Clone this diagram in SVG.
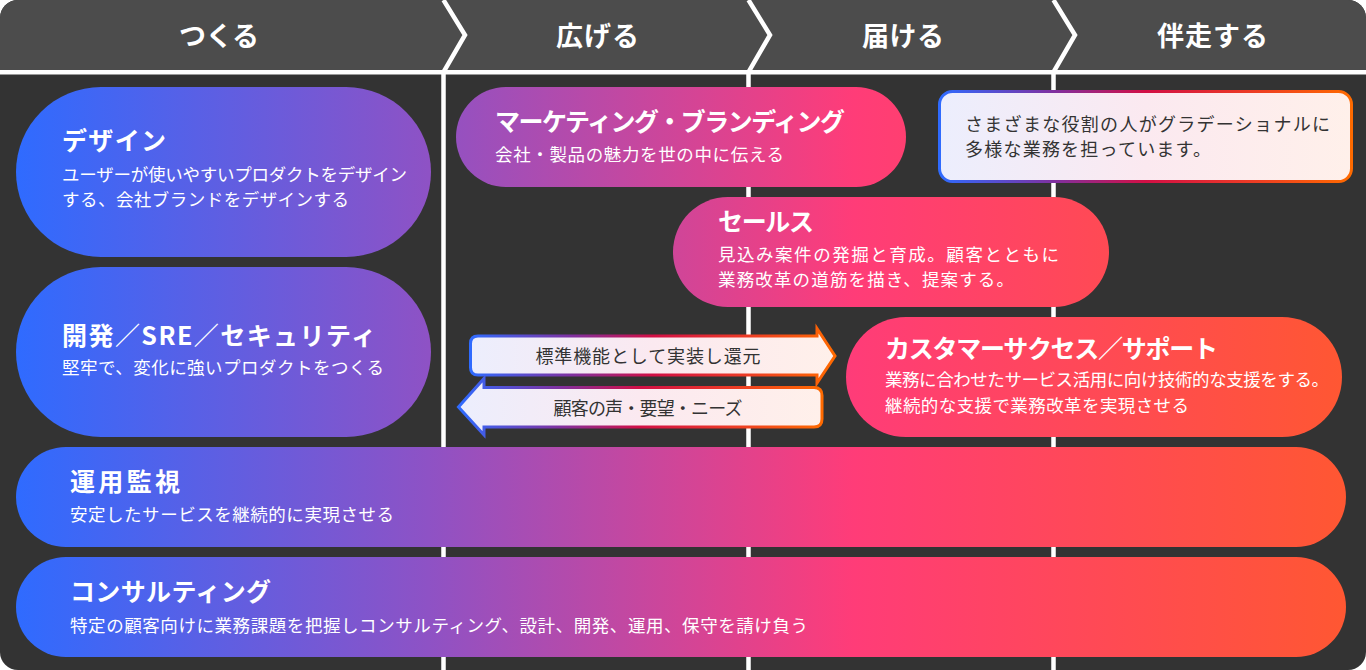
<svg xmlns="http://www.w3.org/2000/svg" width="1366" height="670" viewBox="0 0 1366 670">
<defs>
<clipPath id="frame"><rect x="0" y="0" width="1366" height="670" rx="18"/></clipPath>
<linearGradient id="main" gradientUnits="userSpaceOnUse" x1="16" y1="0" x2="1346" y2="0">
<stop offset="0" stop-color="#2f6bff"/>
<stop offset="0.31" stop-color="#8e52c5"/>
<stop offset="0.63" stop-color="#ff3c78"/>
<stop offset="1" stop-color="#ff5732"/>
</linearGradient>
<linearGradient id="edge" x1="0" y1="0" x2="1" y2="0">
<stop offset="0" stop-color="#2f6bff"/>
<stop offset="0.28" stop-color="#80309f"/>
<stop offset="0.5" stop-color="#d20f45"/>
<stop offset="0.75" stop-color="#ec3a26"/>
<stop offset="1" stop-color="#ff6a00"/>
</linearGradient>
<linearGradient id="soft" x1="0" y1="0" x2="1" y2="0">
<stop offset="0" stop-color="#eceefd"/>
<stop offset="0.5" stop-color="#fbe9f0"/>
<stop offset="1" stop-color="#fff0ea"/>
</linearGradient>
</defs>
<style>
text{font-family:"Noto Sans CJK JP","Noto Sans",sans-serif;}
.hd{fill:#ffffff;font-size:27px;font-weight:700;text-anchor:middle;}
.t{fill:#ffffff;font-size:25px;font-weight:700;}
.s{fill:#ffffff;font-size:17.5px;font-weight:400;}
.d{fill:#333333;font-size:18px;font-weight:400;}
.a{fill:#333333;font-size:18px;font-weight:400;text-anchor:middle;}
.pill{fill:url(#main);}
.box{fill:url(#soft);stroke:url(#edge);stroke-width:3;}
.wl{stroke:#ffffff;stroke-width:4.5;fill:none;}
</style>
<g clip-path="url(#frame)">
<rect x="0" y="0" width="1366" height="670" fill="#333333"/>
<rect x="0" y="0" width="1366" height="70" fill="#4c4c4c"/>
<rect x="0" y="70" width="1366" height="4.5" fill="#ffffff"/>
<path class="wl" d="M443.5,0 L465,35 L443.5,72 L443.5,670"/>
<path class="wl" d="M748.5,0 L770,35 L748.5,72 L748.5,670"/>
<path class="wl" d="M1053.5,0 L1075,35 L1053.5,72 L1053.5,670"/>
</g>
<g id="header">
<text class="hd" x="219" y="46" textLength="80" lengthAdjust="spacing">つくる</text>
<text class="hd" x="597.5" y="46" textLength="83" lengthAdjust="spacing">広げる</text>
<text class="hd" x="903" y="46" textLength="82" lengthAdjust="spacing">届ける</text>
<text class="hd" x="1212.5" y="46" textLength="111" lengthAdjust="spacing">伴走する</text>
</g>
<g id="connectors">
<path class="box" d="M478,336 L817,336 L817,328.5 L835,356 L817,383 L817,375 L478,375 Q470.5,375 470.5,367.5 L470.5,343.5 Q470.5,336 478,336 Z"/>
<text class="a" x="648" y="363" textLength="225" lengthAdjust="spacing">標準機能として実装し還元</text>
<path class="box" d="M814,387.5 L484,387.5 L484,378.5 L458.5,407 L484,435 L484,427 L814,427 Q822,427 822,419 L822,395.5 Q822,387.5 814,387.5 Z"/>
<text class="a" x="648" y="415" textLength="189" lengthAdjust="spacing">顧客の声・要望・ニーズ</text>
</g>
<g id="design">
<rect class="pill" x="16" y="87" width="415" height="170" rx="85"/>
<text class="t" x="62" y="150" textLength="104" lengthAdjust="spacing">デザイン</text>
<text class="s" x="62" y="181" textLength="345" lengthAdjust="spacing">ユーザーが使いやすいプロダクトをデザイン</text>
<text class="s" x="62" y="206" textLength="287" lengthAdjust="spacing">する、会社ブランドをデザインする</text>
</g>
<g id="dev">
<rect class="pill" x="16" y="267" width="415" height="170" rx="85"/>
<text class="t" x="62" y="345" textLength="314" lengthAdjust="spacing">開発／SRE／セキュリティ</text>
<text class="s" x="62" y="374" textLength="322" lengthAdjust="spacing">堅牢で、変化に強いプロダクトをつくる</text>
</g>
<g id="marketing">
<rect class="pill" x="456" y="87" width="450" height="100" rx="50"/>
<text class="t" x="495" y="131" textLength="350" lengthAdjust="spacing">マーケティング・ブランディング</text>
<text class="s" x="495" y="161" textLength="289" lengthAdjust="spacing">会社・製品の魅力を世の中に伝える</text>
</g>
<g id="sales">
<rect class="pill" x="673" y="197" width="436" height="110" rx="55"/>
<text class="t" x="718" y="231" textLength="96" lengthAdjust="spacing">セールス</text>
<text class="s" x="718" y="261" textLength="341" lengthAdjust="spacing">見込み案件の発掘と育成。顧客とともに</text>
<text class="s" x="718" y="286" textLength="296" lengthAdjust="spacing">業務改革の道筋を描き、提案する。</text>
</g>
<g id="note">
<rect class="box" x="939.5" y="91.5" width="412" height="90" rx="13"/>
<text class="d" x="965" y="131" textLength="365" lengthAdjust="spacing">さまざまな役割の人がグラデーショナルに</text>
<text class="d" x="965" y="156" textLength="246" lengthAdjust="spacing">多様な業務を担っています。</text>
</g>
<g id="cs">
<rect class="pill" x="846" y="317" width="496" height="120" rx="60"/>
<text class="t" x="885" y="358" textLength="333" lengthAdjust="spacing">カスタマーサクセス／サポート</text>
<text class="s" x="885" y="386" textLength="444" lengthAdjust="spacing">業務に合わせたサービス活用に向け技術的な支援をする。</text>
<text class="s" x="885" y="412" textLength="304" lengthAdjust="spacing">継続的な支援で業務改革を実現させる</text>
</g>
<g id="ops">
<rect class="pill" x="16" y="447" width="1330" height="100" rx="50"/>
<text class="t" x="70" y="491" textLength="110" lengthAdjust="spacing">運用監視</text>
<text class="s" x="70" y="521" textLength="324" lengthAdjust="spacing">安定したサービスを継続的に実現させる</text>
</g>
<g id="consulting">
<rect class="pill" x="16" y="557" width="1330" height="100" rx="50"/>
<text class="t" x="70" y="601" textLength="201" lengthAdjust="spacing">コンサルティング</text>
<text class="s" x="70" y="632" textLength="738" lengthAdjust="spacing">特定の顧客向けに業務課題を把握しコンサルティング、設計、開発、運用、保守を請け負う</text>
</g>
</svg>
